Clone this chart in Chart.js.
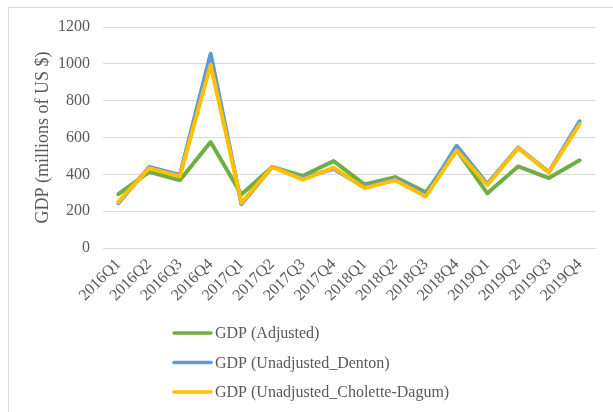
<!DOCTYPE html>
<html>
<head>
<meta charset="utf-8">
<script src="https://cdn.jsdelivr.net/npm/chart.js@4/dist/chart.umd.min.js"></script>
<style>
  html, body { margin: 0; padding: 0; background: #fff; }
  #wrap { width: 613px; height: 412px; position: relative; }
</style>
</head>
<body>
<div id="wrap"><canvas id="c" width="613" height="412"></canvas></div>
<script>
const categories = ["2016Q1","2016Q2","2016Q3","2016Q4","2017Q1","2017Q2","2017Q3","2017Q4",
                    "2018Q1","2018Q2","2018Q3","2018Q4","2019Q1","2019Q2","2019Q3","2019Q4"];
const gdpAdjusted = [292, 413, 368, 575, 290, 440, 392, 472, 345, 385, 302, 532, 297, 443, 380, 476];
const gdpDenton   = [243, 440, 397, 1055, 238, 440, 380, 430, 330, 375, 290, 555, 348, 545, 412, 688];
const gdpCholette = [250, 434, 389, 995, 245, 440, 371, 436, 325, 368, 280, 530, 342, 542, 410, 672];
const yTicks = [0, 200, 400, 600, 800, 1000, 1200];
const seriesNames = ["GDP (Adjusted)", "GDP (Unadjusted_Denton)", "GDP (Unadjusted_Cholette-Dagum)"];

const FONT = "'Liberation Serif', 'Times New Roman', serif";
const TEXT = "#595959";

const frame = {
  id: 'frame',
  beforeDraw(chart) {
    const ctx = chart.ctx;
    ctx.save();
    ctx.fillStyle = '#fff';
    ctx.fillRect(0, 0, chart.width, chart.height);
    ctx.strokeStyle = '#d9d9d9';
    ctx.lineWidth = 1;
    ctx.strokeRect(8.5, 7.5, chart.width + 20, chart.height + 20);
    ctx.restore();
  }
};

const legendPlugin = {
  id: 'vlegend',
  afterDraw(chart) {
    const ctx = chart.ctx;
    const a = chart.chartArea;
    ctx.save();
    ctx.font = "16px " + FONT;
    ctx.textBaseline = 'middle';
    ctx.textAlign = 'left';
    const x0 = a.left + 71;
    const y0 = a.bottom + 85;
    chart.data.datasets.forEach((ds, i) => {
      const y = y0 + i * 29.5;
      ctx.strokeStyle = ds.borderColor;
      ctx.lineWidth = 3.5;
      ctx.lineCap = 'round';
      ctx.beginPath();
      ctx.moveTo(x0, y);
      ctx.lineTo(x0 + 37, y);
      ctx.stroke();
      ctx.fillStyle = TEXT;
      ctx.fillText(ds.label, x0 + 41, y + 1);
    });
    ctx.restore();
  }
};

new Chart(document.getElementById('c'), {
  type: 'line',
  data: {
    labels: categories,
    datasets: [
      { label: seriesNames[0], data: gdpAdjusted, borderColor: '#70ad47', backgroundColor: '#70ad47', order: 3 },
      { label: seriesNames[1], data: gdpDenton,   borderColor: '#5b9bd5', backgroundColor: '#5b9bd5', order: 2 },
      { label: seriesNames[2], data: gdpCholette, borderColor: '#ffc000', backgroundColor: '#ffc000', order: 1 }
    ]
  },
  options: {
    responsive: false,
    animation: false,
    devicePixelRatio: 1,
    layout: { padding: { top: 27, left: 0, right: 18, bottom: 104 } },
    elements: {
      line: { borderWidth: 4, tension: 0, borderJoinStyle: 'round', borderCapStyle: 'round' },
      point: { radius: 0, hoverRadius: 0 }
    },
    plugins: { legend: { display: false }, tooltip: { enabled: false } },
    scales: {
      x: {
        offset: true,
        grid: { display: false, drawTicks: false },
        border: { display: true, color: '#d9d9d9' },
        ticks: {
          autoSkip: false, maxRotation: 45, minRotation: 45, padding: 7,
          color: TEXT, font: { family: FONT, size: 16 }
        },
        afterFit(s) { s.height = 60; }
      },
      y: {
        min: 0, max: 1200,
        afterBuildTicks(s) { s.ticks = yTicks.map(v => ({ value: v })); },
        grid: { color: '#d9d9d9', lineWidth: 1, drawTicks: false },
        border: { display: false },
        ticks: {
          padding: 13, color: TEXT, font: { family: FONT, size: 16 },
          callback: (v) => String(v)
        },
        title: {
          display: true, text: 'GDP (millions of US $)', color: TEXT,
          font: { family: FONT, size: 18 }, padding: { top: 32, bottom: 0 }
        },
        afterFit(s) { s.width = 103; }
      }
    }
  },
  plugins: [frame, legendPlugin]
});
</script>
</body>
</html>
